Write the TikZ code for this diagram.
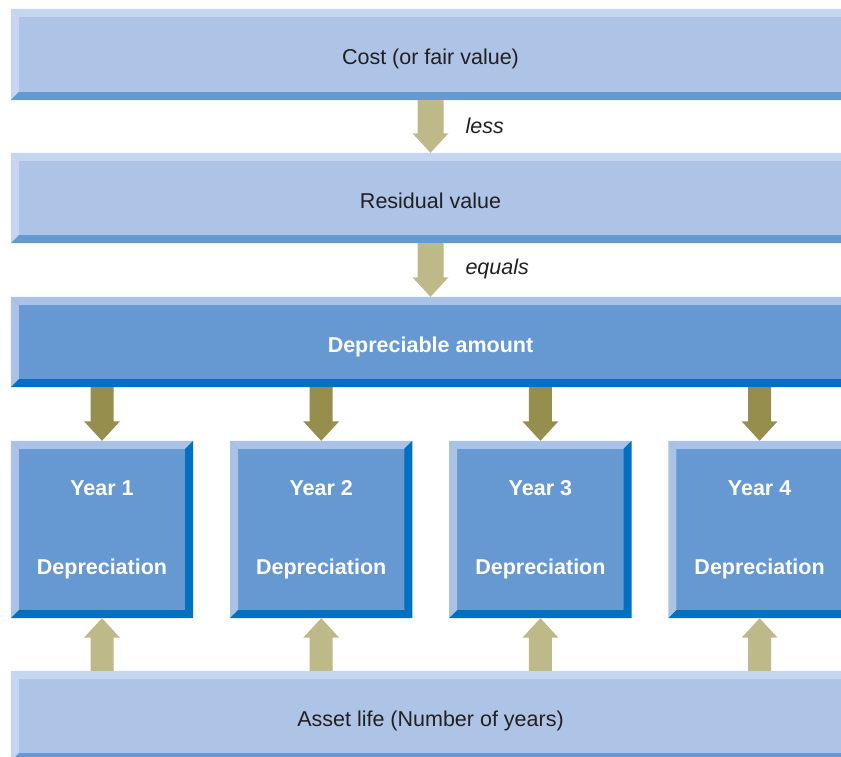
\documentclass[tikz,border=0pt]{standalone}
\usepackage{fontspec}
\setmainfont{Liberation Sans}
\usetikzlibrary{calc}
\definecolor{sky}{HTML}{AEC4E6}
\definecolor{skylt}{HTML}{C6D6F0}
\definecolor{mid}{HTML}{6699D1}
\definecolor{midlt}{HTML}{A9C2E6}
\definecolor{deep}{HTML}{0070C0}
\definecolor{khaki}{HTML}{BDB989}
\definecolor{olive}{HTML}{958E4D}
\definecolor{ink}{HTML}{231F20}
\tikzset{fig/.style={x=1pt,y=-1pt,line join=round},
  bar/.style={rectangle,inner sep=0pt,minimum width=839pt,minimum height=90pt,text height=20pt,text depth=0pt,font=\fontsize{21.5}{25}\selectfont},
  palebar/.style={bar,fill=sky,text=ink},
  deepbar/.style={bar,fill=mid,text=white,font=\bfseries\fontsize{21.5}{25}\selectfont},
  yearbox/.style={rectangle,inner sep=0pt,minimum width=182pt,minimum height=177pt,fill=mid,text=white,align=center,font=\bfseries\fontsize{21.5}{79}\selectfont},
  lbl/.style={anchor=west,text=ink,font=\itshape\fontsize{21.5}{25}\selectfont}}
% bevelled edges round a node: #1 node, #2 top/left colour, #3 bottom/right colour
\newcommand\bevel[3]{%
  \fill[#2](#1.north west)--(#1.north east)--([shift={(-8,8)}]#1.north east)--([shift={(8,8)}]#1.north west)--cycle;
  \fill[#2](#1.north west)--([shift={(8,8)}]#1.north west)--([shift={(8,-8)}]#1.south west)--(#1.south west)--cycle;
  \fill[#3](#1.south west)--(#1.south east)--([shift={(-8,-8)}]#1.south east)--([shift={(8,-8)}]#1.south west)--cycle;
  \fill[#3](#1.north east)--(#1.south east)--([shift={(-8,-8)}]#1.south east)--([shift={(-8,8)}]#1.north east)--cycle;}
% block arrow: #1 tail, #2 tip, #3 half shaft width, #4 colour
\newcommand\fatarrow[4]{%
  \coordinate (hb) at ($(#2)!19.5pt!(#1)$);
  \fill[#4]($(#1)!#3!90:(#2)$)--($(hb)!#3!90:(#2)$)--($(hb)!18pt!90:(#2)$)--(#2)
    --($(hb)!18pt!-90:(#2)$)--($(hb)!#3!-90:(#2)$)--($(#1)!#3!-90:(#2)$)--cycle;}

\begin{document}
\begin{tikzpicture}[fig]
  \useasboundingbox(0,0)rectangle(841,757);
  \clip(0,0)rectangle(841,757);
  \node[palebar,minimum height=91pt](cost)at(430.5,54.5){Cost (or fair value)};\bevel{cost}{skylt}{mid}
  \node[palebar](resid)at(430.5,198){Residual value};\bevel{resid}{skylt}{mid}
  \node[deepbar](amount)at(430.5,342){Depreciable amount};\bevel{amount}{midlt}{deep}
  \node[palebar](life)at(430.5,716){Asset life (Number of years)};\bevel{life}{skylt}{mid}
  \fatarrow{cost.south}{resid.north}{13pt}{khaki}
  \fatarrow{resid.south}{amount.north}{13pt}{khaki}
  \node[lbl](less)at(462,126){less};
  \node[lbl](equals)at(462,269){equals};
  \foreach \i in {1,...,4}{
    \node[yearbox](yr\i)at({102+219.2*(\i-1)},529.5){Year \i\\Depreciation};\bevel{yr\i}{midlt}{deep}
    \coordinate(dn\i)at(yr\i.north |- amount.south);
    \coordinate(up\i)at(yr\i.south |- life.north);
    \fatarrow{dn\i}{yr\i.north}{11.5pt}{olive}
    \fatarrow{up\i}{yr\i.south}{11.5pt}{khaki}}
\end{tikzpicture}
\end{document}
